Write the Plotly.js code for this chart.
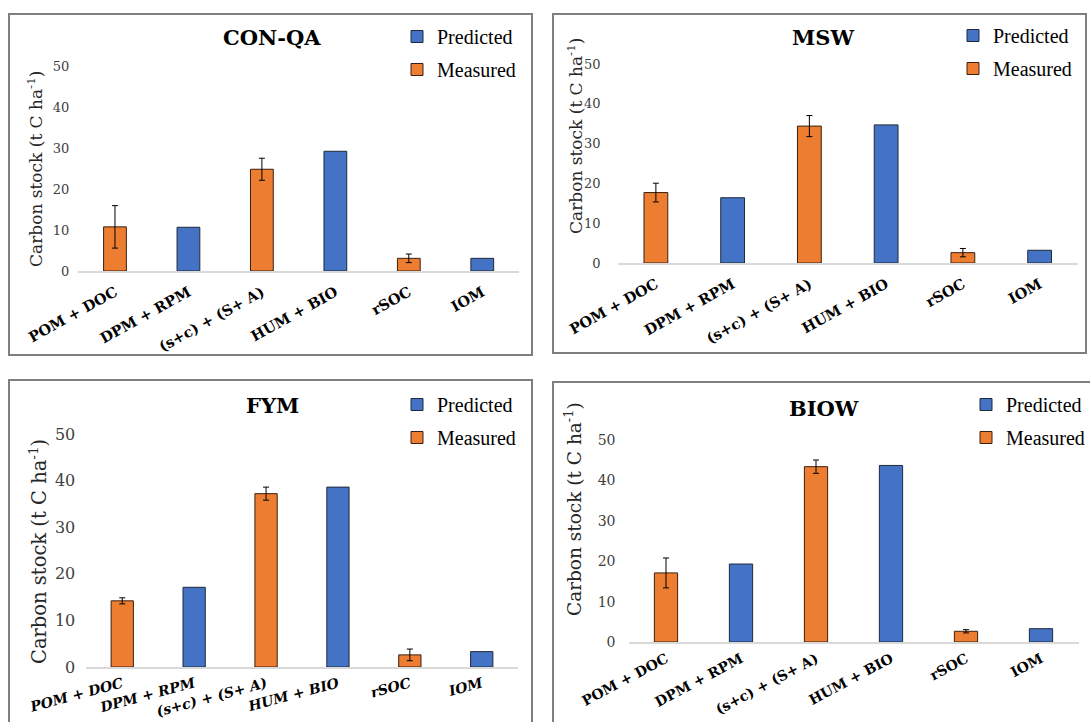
<!DOCTYPE html>
<html>
<head>
<meta charset="utf-8">
<script src="https://cdn.plot.ly/plotly-3.0.1.min.js"></script>
<style>html,body{margin:0;padding:0;background:#fff;}#chart{width:1090px;height:722px;}</style>
</head>
<body>
<div id="chart"></div>
<script>
// ---- data ----
const categories = ['POM + DOC', 'DPM + RPM', '(s+c) + (S+ A)', 'HUM + BIO', 'rSOC', 'IOM'];
const measuredCats = ['POM + DOC', '(s+c) + (S+ A)', 'rSOC'];
const predictedCats = ['DPM + RPM', 'HUM + BIO', 'IOM'];
const panelNames = ['CON-QA', 'MSW', 'FYM', 'BIOW'];

const conqaMeasured = [10.8, 24.9, 3.1];
const conqaMeasuredErr = [5.2, 2.7, 1.05];
const conqaPredicted = [10.7, 29.3, 3.1];

const mswMeasured = [17.7, 34.4, 2.6];
const mswMeasuredErr = [2.35, 2.65, 1.05];
const mswPredicted = [16.4, 34.7, 3.2];

const fymMeasured = [14.2, 37.2, 2.6];
const fymMeasuredErr = [0.65, 1.4, 1.25];
const fymPredicted = [17.1, 38.6, 3.3];

const biowMeasured = [17.1, 43.4, 2.65];
const biowMeasuredErr = [3.7, 1.65, 0.4];
const biowPredicted = [19.3, 43.7, 3.3];

const yTicks = [0, 10, 20, 30, 40, 50];
const yTitle = 'Carbon stock (t C ha<sup>-1</sup>)';

// ---- styling / layout ----
const W = 1090, H = 722;
const px = v => v / W;
const py = v => 1 - v / H;
const ORANGE = '#ED7D31', BLUE = '#4472C4';

const panels = [
  {m: conqaMeasured, e: conqaMeasuredErr, p: conqaPredicted,
   xd: [78.25, 519], yd: [271, 66.7], tickSize: 13, catSize: 14.5, catAngle: -29, italic: false,
   standoffY: 8, standoffX: 6, legX: 397, legY: 17, titleX: 272, titleY: 38,
   yt: {x: 35, y: 169, size: 17}, box: [9, 14, 532, 355]},
  {m: mswMeasured, e: mswMeasuredErr, p: mswPredicted,
   xd: [617.5, 1078], yd: [263, 64], tickSize: 13, catSize: 14.5, catAngle: -29, italic: false,
   standoffY: 16, standoffX: 6, legX: 953, legY: 16, titleX: 823, titleY: 38,
   yt: {x: 575, y: 136, size: 17}, box: [553, 14, 1086, 353]},
  {m: fymMeasured, e: fymMeasuredErr, p: fymPredicted,
   xd: [86.3, 517.7], yd: [667, 434], tickSize: 16, catSize: 14, catAngle: -15, italic: true,
   standoffY: 10, standoffX: 2, legX: 397, legY: 385, titleX: 272, titleY: 405,
   yt: {x: 38, y: 552, size: 19.5}, box: [9, 380, 532, 760]},
  {m: biowMeasured, e: biowMeasuredErr, p: biowPredicted,
   xd: [628.5, 1078.5], yd: [642, 440], tickSize: 14, catSize: 14, catAngle: -28, italic: false,
   standoffY: 12, standoffX: 2, legX: 966, legY: 385, titleX: 824, titleY: 408,
   yt: {x: 573, y: 509, size: 18.5}, box: [553, 382, 1100, 760]}
];

const data = [];
const layout = {
  width: W, height: H,
  margin: {l: 0, r: 0, t: 0, b: 0},
  paper_bgcolor: '#ffffff', plot_bgcolor: '#ffffff',
  barmode: 'overlay',
  showlegend: true,
  annotations: [], shapes: [],
  font: {family: 'DejaVu Serif', color: '#404040'}
};

panels.forEach((pn, i) => {
  const n = i + 1;
  const xa = n === 1 ? 'x' : 'x' + n;
  const ya = n === 1 ? 'y' : 'y' + n;
  const lg = n === 1 ? 'legend' : 'legend' + n;
  data.push({
    type: 'bar', name: 'Predicted', x: predictedCats, y: pn.p,
    xaxis: xa, yaxis: ya, legend: lg, legendrank: 1, legendgroup: 'p' + n,
    width: 0.31, marker: {color: BLUE, line: {color: '#1f2a3a', width: 1}},
    hoverinfo: 'x+y'
  });
  data.push({
    type: 'bar', name: 'Measured', x: measuredCats, y: pn.m,
    error_y: {type: 'data', array: pn.e, visible: true, color: '#000000', thickness: 1, width: 3},
    xaxis: xa, yaxis: ya, legend: lg, legendrank: 2, legendgroup: 'm' + n,
    width: 0.31, marker: {color: ORANGE, line: {color: '#3a2010', width: 1}},
    hoverinfo: 'x+y'
  });
  const xk = n === 1 ? 'xaxis' : 'xaxis' + n;
  const yk = n === 1 ? 'yaxis' : 'yaxis' + n;
  layout[xk] = {
    domain: [px(pn.xd[0]), px(pn.xd[1])], anchor: ya,
    type: 'category', categoryorder: 'array', categoryarray: categories,
    range: [-0.5, 5.5], fixedrange: true,
    showline: true, linecolor: '#d9d9d9', linewidth: 1.5,
    showgrid: false, zeroline: false, ticks: '',
    tickangle: pn.catAngle, ticklabelstandoff: pn.standoffX,
    tickfont: {family: 'DejaVu Serif', size: pn.catSize, color: '#000000', weight: 'bold',
               style: pn.italic ? 'italic' : 'normal'}
  };
  layout[yk] = {
    domain: [py(pn.yd[0]), py(pn.yd[1])], anchor: xa,
    range: [0, 50], tickvals: yTicks, fixedrange: true,
    showline: false, showgrid: false, zeroline: false, ticks: '',
    ticklabelstandoff: pn.standoffY,
    tickfont: {family: 'DejaVu Serif', size: pn.tickSize, color: '#404040'}
  };
  layout[lg] = {
    x: px(pn.legX), y: py(pn.legY), xanchor: 'left', yanchor: 'top',
    xref: 'paper', yref: 'paper',
    bgcolor: 'rgba(0,0,0,0)', borderwidth: 0,
    traceorder: 'grouped', tracegroupgap: 4,
    font: {family: 'Liberation Serif', size: 20, color: '#000000'}
  };
  layout.annotations.push({
    text: '<b>' + panelNames[i] + '</b>', xref: 'paper', yref: 'paper',
    x: px(pn.titleX), y: py(pn.titleY), xanchor: 'center', yanchor: 'middle',
    showarrow: false, font: {family: 'DejaVu Serif', size: 21, color: '#000000'}
  });
  layout.annotations.push({
    text: yTitle, xref: 'paper', yref: 'paper', textangle: -90,
    x: px(pn.yt.x), y: py(pn.yt.y), xanchor: 'center', yanchor: 'middle',
    showarrow: false, font: {family: 'DejaVu Serif', size: pn.yt.size, color: '#262626'}
  });
  layout.shapes.push({
    type: 'rect', xref: 'paper', yref: 'paper',
    x0: px(pn.box[0]), x1: px(pn.box[2]), y0: py(pn.box[3]), y1: py(pn.box[1]),
    line: {color: '#7f7f7f', width: 2}, fillcolor: 'rgba(0,0,0,0)', layer: 'below'
  });
});

Plotly.newPlot('chart', data, layout, {displayModeBar: false, staticPlot: true});
</script>
</body>
</html>
